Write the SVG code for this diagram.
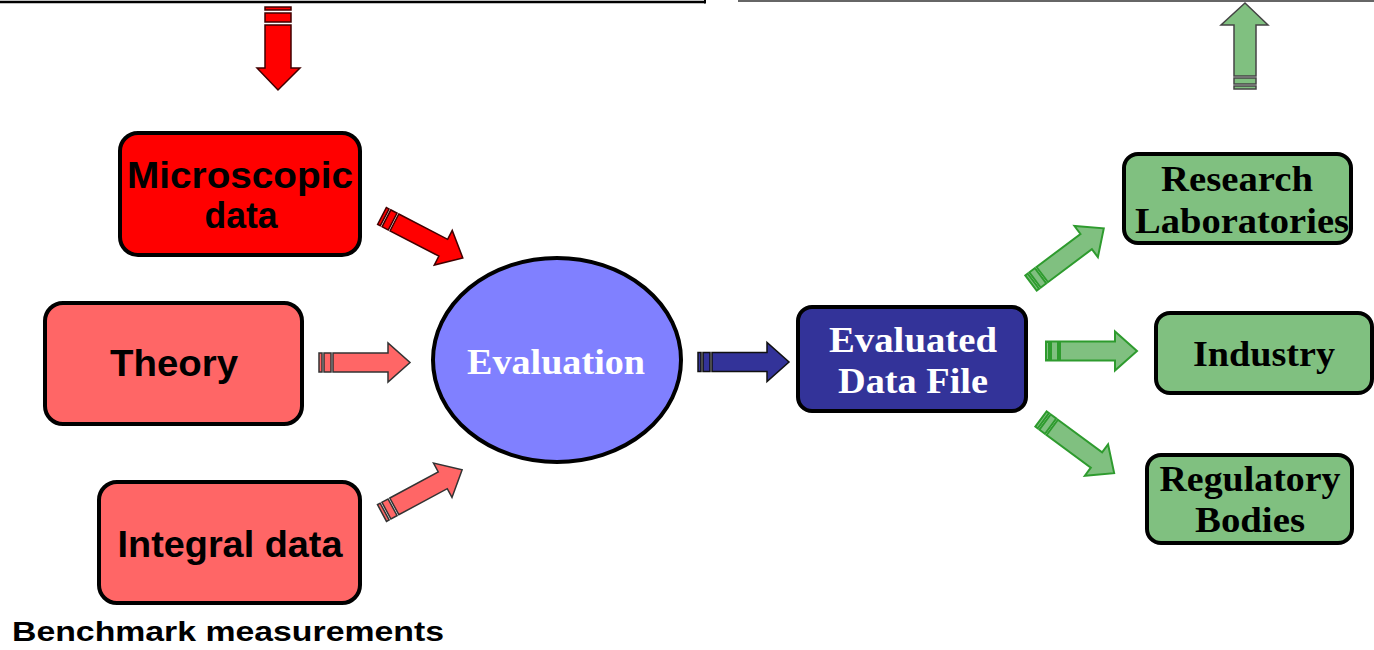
<svg xmlns="http://www.w3.org/2000/svg" width="1374" height="650" viewBox="0 0 1374 650">
<style>
.box{stroke:#000;stroke-width:4}
.sans{font-family:"Liberation Sans",Arial,sans-serif;font-weight:bold;fill:#000;text-anchor:middle}
.serif{font-family:"Liberation Serif","Times New Roman",serif;font-weight:bold;text-anchor:middle}
.red{fill:#FF0000;stroke:#400000;stroke-width:1.5}
.pink{fill:#FF6666;stroke:#333;stroke-width:1.5}
.blue{fill:#333399;stroke:#111;stroke-width:1.5}
.green{fill:#80C080;stroke:#2E9B2E;stroke-width:2}
.greendk{fill:#80C080;stroke:#444;stroke-width:1.5}
</style>
<defs>
<g id="arr">
<rect x="0" y="-9.5" width="3" height="19"/>
<rect x="5" y="-9.5" width="7" height="19"/>
<polygon points="14,-9.5 69,-9.5 69,-19.5 91,0 69,19.5 69,9.5 14,9.5"/>
</g>
</defs>
<rect width="1374" height="650" fill="#fff"/>
<g id="frame">
<line x1="0" y1="2" x2="705" y2="2" stroke="#000" stroke-width="2.5"/>
<line x1="705" y1="0" x2="705" y2="3.5" stroke="#000" stroke-width="2"/>
<line x1="738" y1="1" x2="1374" y2="1" stroke="#333" stroke-width="1.5"/>
</g>
<g id="connectors">
<g class="red">
<rect x="265" y="7" width="26" height="3"/>
<rect x="265" y="13" width="26" height="9"/>
<polygon points="265,25 291,25 291,68 300,68 278,90 257,68 265,68"/>
</g>
<g class="greendk">
<polygon points="1245,3 1268,25 1256,25 1256,76 1234,76 1234,25 1221,25"/>
<rect x="1234" y="78" width="22" height="6"/>
<rect x="1234" y="86" width="22" height="3"/>
</g>
<use href="#arr" class="red" transform="translate(382,216) rotate(27.4)"/>
<use href="#arr" class="pink" transform="translate(319,362.5)"/>
<use href="#arr" class="pink" transform="translate(382,513) rotate(-28.3)"/>
<use href="#arr" class="blue" transform="translate(698,362)"/>
<use href="#arr" class="green" transform="translate(1031,283) rotate(-36.9)"/>
<use href="#arr" class="green" transform="translate(1046,351)"/>
<use href="#arr" class="green" transform="translate(1041,419) rotate(36.5)"/>
</g>
<g id="microscopic">
<rect class="box" x="120" y="133" width="240" height="122" rx="18" fill="#FF0000"/>
<text class="sans" x="240" y="188" font-size="37" textLength="226" lengthAdjust="spacingAndGlyphs">Microscopic</text>
<text class="sans" x="241" y="228" font-size="37" textLength="73" lengthAdjust="spacingAndGlyphs">data</text>
</g>
<g id="theory">
<rect class="box" x="45" y="303" width="257" height="121" rx="18" fill="#FF6666"/>
<text class="sans" x="174" y="376" font-size="37" textLength="128" lengthAdjust="spacingAndGlyphs">Theory</text>
</g>
<g id="integral">
<rect class="box" x="99" y="482" width="261" height="121" rx="18" fill="#FF6666"/>
<text class="sans" x="230" y="557" font-size="37" textLength="225" lengthAdjust="spacingAndGlyphs">Integral data</text>
</g>
<g id="benchmark">
<text class="sans" x="228" y="641" font-size="28" textLength="432" lengthAdjust="spacingAndGlyphs">Benchmark measurements</text>
</g>
<g id="evaluation">
<ellipse cx="557" cy="360" rx="124" ry="102" fill="#8080FF" stroke="#000" stroke-width="4"/>
<text class="serif" x="556" y="374" font-size="36" fill="#fff" textLength="178" lengthAdjust="spacingAndGlyphs">Evaluation</text>
</g>
<g id="datafile">
<rect class="box" x="798" y="307" width="228" height="104" rx="14" fill="#333399"/>
<text class="serif" x="913" y="352" font-size="35" fill="#fff" textLength="168" lengthAdjust="spacingAndGlyphs">Evaluated</text>
<text class="serif" x="913" y="393" font-size="35" fill="#fff" textLength="150" lengthAdjust="spacingAndGlyphs">Data File</text>
</g>
<g id="research">
<rect class="box" x="1124" y="154" width="227" height="89" rx="14" fill="#80C080"/>
<text class="serif" x="1237" y="191" font-size="35" fill="#000" textLength="152" lengthAdjust="spacingAndGlyphs">Research</text>
<text class="serif" x="1242" y="233" font-size="35" fill="#000" textLength="214" lengthAdjust="spacingAndGlyphs">Laboratories</text>
</g>
<g id="industry">
<rect class="box" x="1156" y="313" width="216" height="80" rx="14" fill="#80C080"/>
<text class="serif" x="1264" y="366" font-size="35" fill="#000" textLength="142" lengthAdjust="spacingAndGlyphs">Industry</text>
</g>
<g id="regulatory">
<rect class="box" x="1147" y="455" width="205" height="88" rx="14" fill="#80C080"/>
<text class="serif" x="1250" y="491" font-size="35" fill="#000" textLength="181" lengthAdjust="spacingAndGlyphs">Regulatory</text>
<text class="serif" x="1250" y="532" font-size="35" fill="#000" textLength="110" lengthAdjust="spacingAndGlyphs">Bodies</text>
</g>
</svg>
